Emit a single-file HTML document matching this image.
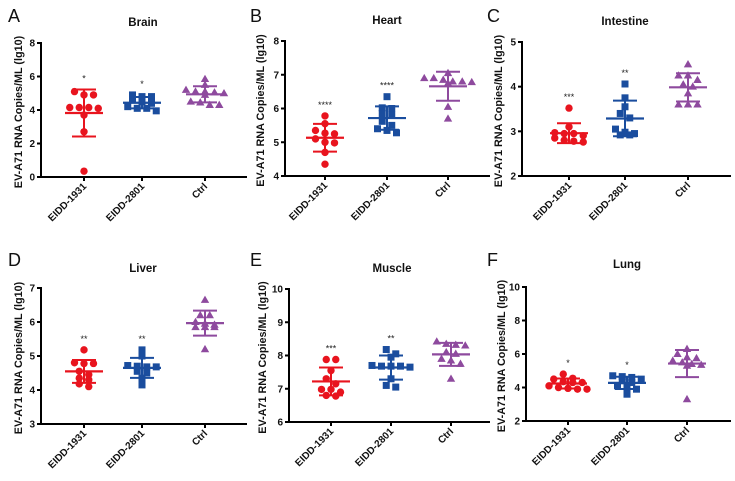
<!DOCTYPE html>
<html><head><meta charset="utf-8">
<style>
html,body{margin:0;padding:0;background:#fff;}
svg{display:block;font-family:"Liberation Sans",Arial,sans-serif;}
</style></head>
<body>
<svg id="fig" width="735" height="481" viewBox="0 0 735 481"></svg>
<script>
// ---- data (log10 copies/mL) ----
const categories = ["EIDD-1931","EIDD-2801","Ctrl"];
const brain1931 = [5.1,4.9,4.9,4.15,4.15,4.15,4.1,3.7,2.7,0.35];
const brain2801 = [4.9,4.8,4.8,4.6,4.5,4.4,4.2,4.1,4.1,3.95];
const brainCtrl = [5.85,5.5,5.2,5.1,5.1,5.05,5.0,4.9,4.5,4.45,4.3,4.3];
const heart1931 = [5.78,5.55,5.35,5.27,5.25,5.1,5.0,4.98,4.7,4.35];
const heart2801 = [6.35,6.02,6.0,5.85,5.8,5.62,5.5,5.4,5.35,5.28];
const heartCtrl = [7.05,6.9,6.9,6.85,6.8,6.8,6.78,6.75,6.05,5.7];
const intestine1931 = [3.52,3.1,2.97,2.95,2.95,2.9,2.85,2.8,2.78,2.76];
const intestine2801 = [4.06,3.75,3.55,3.4,3.3,3.05,2.98,2.95,2.92,2.92];
const intestineCtrl = [4.5,4.25,4.25,4.15,4.05,4.0,3.85,3.6,3.6,3.6];
const liver1931 = [5.18,4.8,4.78,4.78,4.55,4.45,4.35,4.3,4.18,4.1];
const liver2801 = [5.18,5.0,4.72,4.7,4.68,4.68,4.55,4.5,4.35,4.15];
const liverCtrl = [6.65,6.2,6.2,6.0,5.95,5.92,5.85,5.85,5.85,5.2];
const muscle1931 = [7.88,7.88,7.55,7.3,7.15,6.98,6.98,6.9,6.8,6.78];
const muscle2801 = [8.18,8.05,7.95,7.7,7.68,7.68,7.68,7.65,7.3,7.1,7.05];
const muscleCtrl = [8.42,8.35,8.32,8.3,8.1,8.05,7.9,7.85,7.75,7.3];
const lung1931 = [4.8,4.55,4.5,4.35,4.3,4.3,4.1,4.0,3.95,3.9,3.9];
const lung2801 = [4.7,4.65,4.6,4.5,4.4,4.3,4.1,4.0,3.9,3.6];
const lungCtrl = [6.3,6.0,5.8,5.75,5.6,5.5,5.4,5.35,5.3,3.3];
const brainStars = ["*","*"];
const heartStars = ["****","****"];
const intestineStars = ["***","**"];
const liverStars = ["**","**"];
const muscleStars = ["***","**"];
const lungStars = ["*","*"];
const brainTicks = [0,2,4,6,8];
const heartTicks = [4,5,6,7,8];
const intestineTicks = [2,3,4,5];
const liverTicks = [3,4,5,6,7];
const muscleTicks = [6,7,8,9,10];
const lungTicks = [2,4,6,8,10];

// ---- layout ----
const colors = ["#e8141e","#1a4d9e","#8e4a9e"];
const panels = [
 {key:"brain",letter:"A",title:"Brain",groups:[brain1931,brain2801,brainCtrl],stars:brainStars,ticks:brainTicks,lx:8,ly:22,ax:41,ax2:247,yTop:43,yBot:177,cx:[84,142,205],tx:143,ty:26,labX:22},
 {key:"heart",letter:"B",title:"Heart",groups:[heart1931,heart2801,heartCtrl],stars:heartStars,ticks:heartTicks,lx:250,ly:22,ax:285,ax2:490,yTop:41,yBot:176,cx:[325,387,448],tx:387,ty:24,labX:264},
 {key:"intestine",letter:"C",title:"Intestine",groups:[intestine1931,intestine2801,intestineCtrl],stars:intestineStars,ticks:intestineTicks,lx:487,ly:22,ax:522,ax2:731,yTop:42,yBot:176,cx:[569,625,688],tx:625,ty:25,labX:502},
 {key:"liver",letter:"D",title:"Liver",groups:[liver1931,liver2801,liverCtrl],stars:liverStars,ticks:liverTicks,lx:8,ly:266,ax:41,ax2:247,yTop:288,yBot:424,cx:[84,142,205],tx:143,ty:272,labX:22},
 {key:"muscle",letter:"E",title:"Muscle",groups:[muscle1931,muscle2801,muscleCtrl],stars:muscleStars,ticks:muscleTicks,lx:250,ly:266,ax:289,ax2:490,yTop:289,yBot:422,cx:[331,391,451],tx:392,ty:272,labX:266},
 {key:"lung",letter:"F",title:"Lung",groups:[lung1931,lung2801,lungCtrl],stars:lungStars,ticks:lungTicks,lx:487,ly:266,ax:526,ax2:731,yTop:287,yBot:421,cx:[568,627,687],tx:627,ty:268,labX:505}
];
const NS="http://www.w3.org/2000/svg";
const svg=document.getElementById("fig");
function mk(tag,attrs,parent,text){const e=document.createElementNS(NS,tag);for(const k in attrs)e.setAttribute(k,attrs[k]);if(text!==undefined)e.textContent=text;(parent||svg).appendChild(e);return e;}
function mean(a){return a.reduce((s,v)=>s+v,0)/a.length;}
function sd(a){const m=mean(a);return Math.sqrt(a.reduce((s,v)=>s+(v-m)*(v-m),0)/(a.length-1));}

panels.forEach(p=>{
  const g=mk("g",{});
  
  
  const t0=p.ticks[0],t1=p.ticks[p.ticks.length-1];
  const y=v=>p.yBot-(v-t0)/(t1-t0)*(p.yBot-p.yTop);
  const L=mk("text",{x:p.lx,y:p.ly,"font-size":18,fill:"#111"},g,p.letter);
  
  
  const T=mk("text",{x:p.tx,y:p.ty,"font-size":11.5,"font-weight":"bold","text-anchor":"middle",fill:"#111"},g,p.title);
  
  
  const cy=(p.yTop+p.yBot)/2+2;
  const YL=mk("text",{x:p.labX,y:cy,"font-size":10.8,"font-weight":"bold","text-anchor":"middle",fill:"#111",transform:`rotate(-90 ${p.labX} ${cy})`},g,"EV-A71 RNA Copies/ML (lg10)");
  
  
  const ya=mk("line",{x1:p.ax,y1:p.yTop-1,x2:p.ax,y2:p.yBot+1,stroke:"#000","stroke-width":2},g);
  
  
  const xa=mk("line",{x1:p.ax-1,y1:p.yBot,x2:p.ax2,y2:p.yBot,stroke:"#000","stroke-width":2},g);
  
  
  p.ticks.forEach(tv=>{
    mk("line",{x1:p.ax-4,y1:y(tv),x2:p.ax,y2:y(tv),stroke:"#000","stroke-width":2},g);
    const tl=mk("text",{x:p.ax-6,y:y(tv)+3.5,"font-size":10,"font-weight":"bold","text-anchor":"end",fill:"#111"},g,String(tv));
    
    
  });
  p.groups.forEach((vals,gi)=>{
    const x=p.cx[gi],c=colors[gi];
    mk("line",{x1:x,y1:p.yBot,x2:x,y2:p.yBot+4,stroke:"#000","stroke-width":2},g);
    const xl=mk("text",{x:x+3,y:p.yBot+10,"font-size":10,"font-weight":"bold","text-anchor":"end",fill:"#111",transform:`rotate(-45 ${x+3} ${p.yBot+10})`},g,categories[gi]);
    
    
    const sorted=vals.slice().sort((a,b)=>b-a);
    const rows=[];
    sorted.forEach(v=>{const last=rows[rows.length-1];if(last&&Math.abs(y(last[0])-y(v))<5)last.push(v);else rows.push([v]);});
    rows.forEach(r=>{
      r.forEach((v,i)=>{
        const px=x+(i-(r.length-1)/2)*9.5;
        let m;
        if(gi===0)m=mk("circle",{cx:px,cy:y(v),r:3.7,fill:c},g);
        else if(gi===1)m=mk("rect",{x:px-3.5,y:y(v)-3.5,width:7,height:7,fill:c},g);
        else m=mk("polygon",{points:`${px},${y(v)-4.3} ${px+4.2},${y(v)+3} ${px-4.2},${y(v)+3}`,fill:c},g);
        
        
      });
    });
    const m=mean(vals),s=sd(vals);
    const ml=mk("line",{x1:x-19,y1:y(m),x2:x+19,y2:y(m),stroke:c,"stroke-width":2.2},g);
    
    
    const eb=mk("path",{d:`M${x},${y(m+s)}V${y(m-s)}M${x-12},${y(m+s)}H${x+12}M${x-12},${y(m-s)}H${x+12}`,stroke:c,"stroke-width":2,fill:"none"},g);
    
    
    if(gi<2){
      const top=Math.max(...vals,m+s);
      const st=mk("text",{x:x,y:y(top)-8,"font-size":9,"text-anchor":"middle",fill:"#222"},g,p.stars[gi]);
      
      
    }
  });
});
</script>
</body></html>
